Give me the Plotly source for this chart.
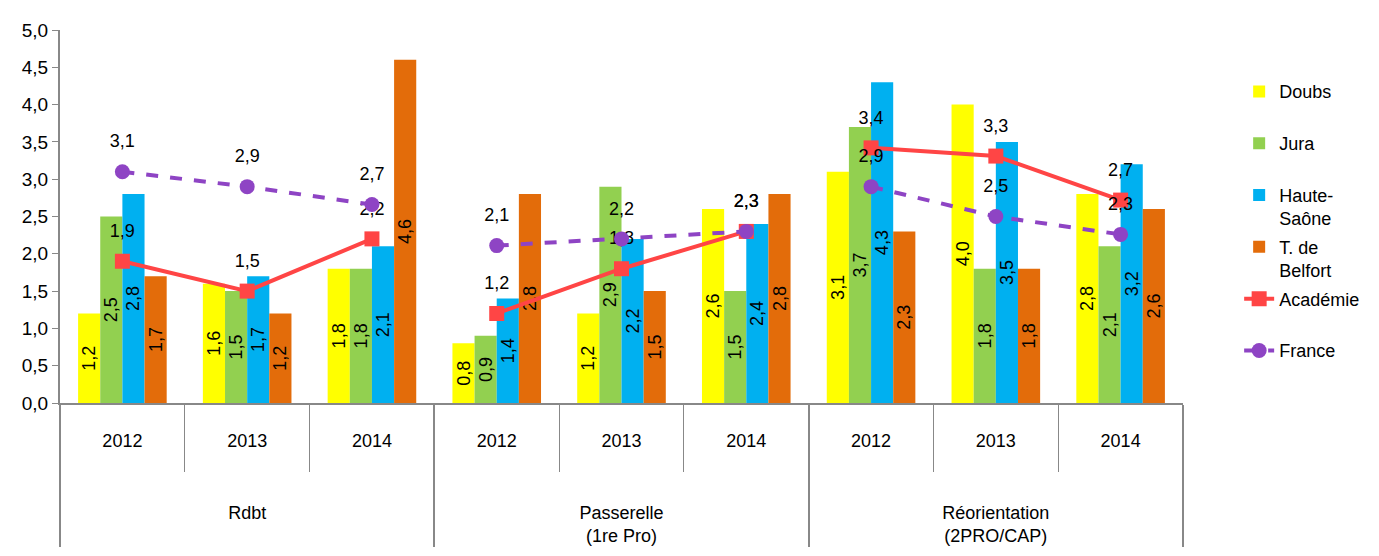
import plotly.graph_objects as go

# categories
groups = ['Rdbt', 'Passerelle<br>(1re Pro)', 'Réorientation<br>(2PRO/CAP)']
years = ['2012<br>&nbsp;<br>&nbsp;<br>&nbsp;', '2013<br>&nbsp;<br>&nbsp;<br>&nbsp;',
         '2014<br>&nbsp;<br>&nbsp;<br>&nbsp;']
x_grp = [g for g in groups for y in years]
x_year = [y for g in groups for y in years]

# bar series
doubs = [1.2, 1.6, 1.8, 0.8, 1.2, 2.6, 3.1, 4.0, 2.8]
jura = [2.5, 1.5, 1.8, 0.9, 2.9, 1.5, 3.7, 1.8, 2.1]
haute_saone = [2.8, 1.7, 2.1, 1.4, 2.2, 2.4, 4.3, 3.5, 3.2]
belfort = [1.7, 1.2, 4.6, 2.8, 1.5, 2.8, 2.3, 1.8, 2.6]

# line series
academie = [1.9, 1.5, 2.2, 1.2, 1.8, 2.3, 3.42, 3.31, 2.72]
france = [3.1, 2.9, 2.66, 2.11, 2.2, 2.3, 2.9, 2.5, 2.26]

FONT = 'Liberation Sans, Arial'

fig = go.Figure()

bars = [('Doubs<br>&nbsp;', doubs, '#FFFF00'),
        ('Jura<br>&nbsp;', jura, '#92D050'),
        ('Haute-<br>Saône', haute_saone, '#00B0F0'),
        ('T. de<br>Belfort', belfort, '#E36C0A')]
for name, vals, col in bars:
    fig.add_trace(go.Bar(x=[x_grp, x_year], y=vals, name=name, marker_color=col,
                         marker_line_width=0, texttemplate='%{y:.1f}',
                         textposition='inside', insidetextanchor='middle',
                         constraintext='none', cliponaxis=False,
                         textangle=-90, textfont=dict(color='black', size=18, family=FONT),
                         legendgroup=name))

# lines, broken between groups
lines = [('Académie<br>&nbsp;', academie, '#FF4545', 'square', 'solid'),
         ('France<br>&nbsp;', france, '#8E44C4', 'circle', 'dash')]
for name, vals, col, sym, dash in lines:
    for i, g in enumerate(groups):
        xs = [[g] * 3, years]
        ys = vals[i*3:i*3+3]
        fig.add_trace(go.Scatter(x=xs, y=ys, name=name, mode='lines+markers',
                                 line=dict(color=col, width=4, dash=dash),
                                 marker=dict(symbol=sym, size=15, color=col),
                                 legendgroup=name, showlegend=(i == 0)))
        # value labels, a bit higher above the markers
        fig.add_trace(go.Scatter(x=xs, y=ys, mode='markers+text', texttemplate='%{y:.1f}',
                                 textposition='top center',
                                 textfont=dict(color='black', size=18, family=FONT),
                                 marker=dict(size=30, color='rgba(0,0,0,0)'),
                                 hoverinfo='skip', showlegend=False))

fig.update_layout(
    width=1379, height=556,
    margin=dict(l=52, r=204, t=16, b=161),
    plot_bgcolor='white', paper_bgcolor='white',
    separators=', ',
    barmode='group', bargap=0.29, bargroupgap=0,
    font=dict(family=FONT, size=18, color='black'),
    legend=dict(x=1.05, y=0.884, yanchor='top', valign='top',
                tracegroupgap=2, font=dict(size=18, family=FONT)),
)
fig.update_yaxes(range=[0, 5], dtick=0.5, tickformat='.1f', showgrid=False,
                 showline=True, linecolor='#888888', linewidth=2,
                 ticks='outside', tickcolor='#888888', ticklen=6,
                 tickfont=dict(size=19))
fig.update_xaxes(type='multicategory', range=[-0.5, 8.5],
                 showline=True, linecolor='#888888', linewidth=2,
                 ticks='outside', tickson='boundaries', tickcolor='#888888', ticklen=67,
                 ticklabelstandoff=20, tickfont=dict(size=18),
                 showdividers=True, dividercolor='#888888', dividerwidth=2,
                 showgrid=False)

fig.write_html("out.html")
